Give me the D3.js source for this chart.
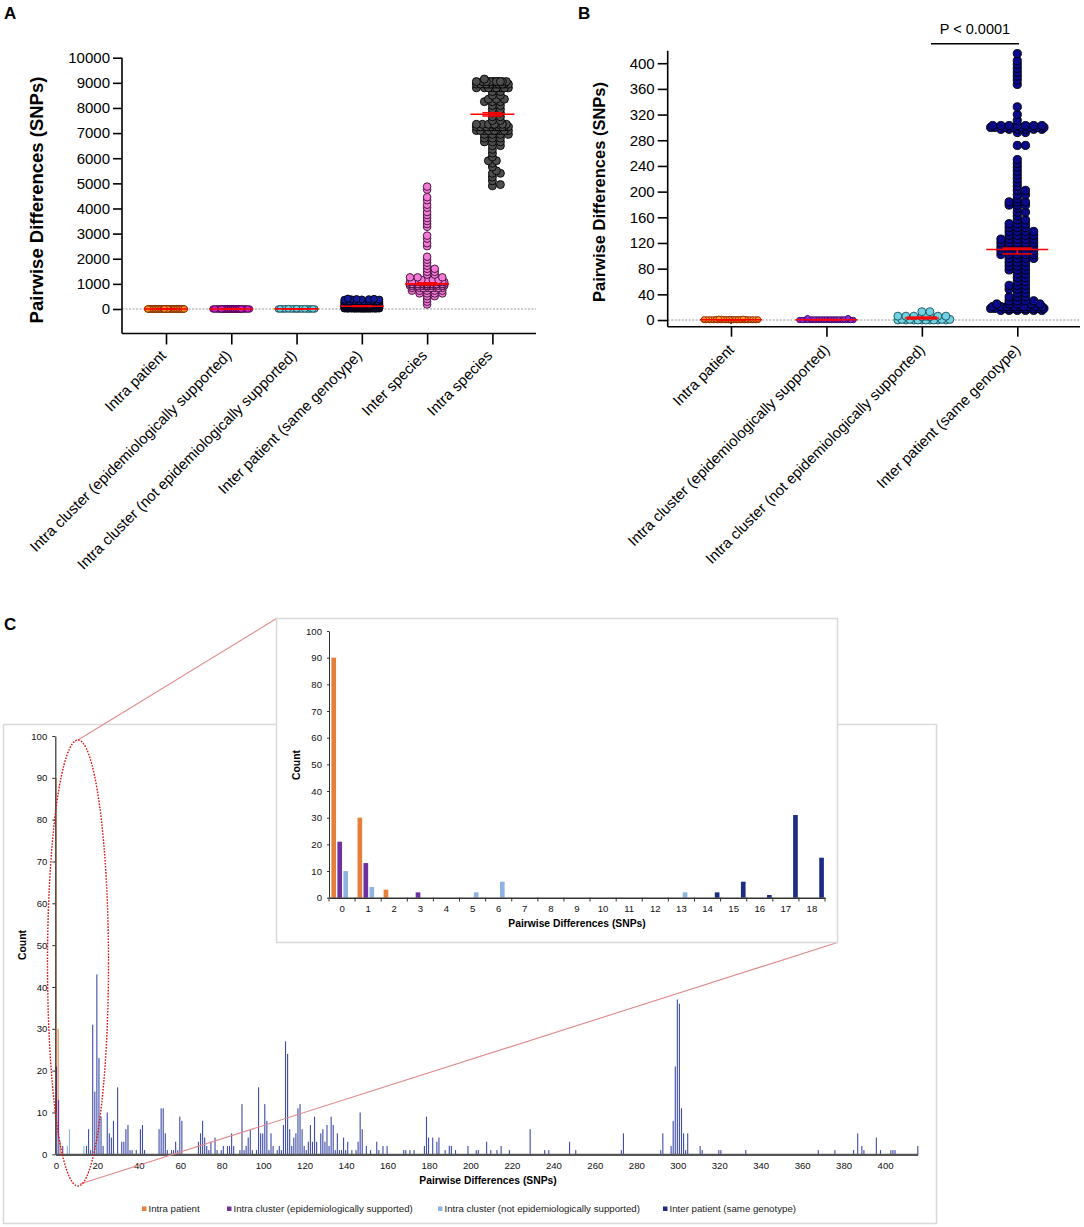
<!DOCTYPE html>
<html><head><meta charset="utf-8">
<script src="https://cdn.jsdelivr.net/npm/d3@7/dist/d3.min.js"></script>
<style>
body{margin:0;background:#fff;}
svg{display:block;font-family:'Liberation Sans',Arial,Helvetica,sans-serif;}
</style></head><body>
<svg id="chart" width="1084" height="1227"></svg>
<script>
// ================= DATA =================
const categoriesA = ["Intra patient","Intra cluster (epidemiologically supported)","Intra cluster (not epidemiologically supported)","Inter patient (same genotype)","Inter species","Intra species"];
const categoriesB = ["Intra patient","Intra cluster (epidemiologically supported)","Intra cluster (not epidemiologically supported)","Inter patient (same genotype)"];
const seriesNames = ["Intra patient","Intra cluster (epidemiologically supported)","Intra cluster (not epidemiologically supported)","Inter patient (same genotype)"];

// Histogram (panel C): [pairwise SNP difference, count]
const intraPatientCounts = [[0,90],[1,30],[2,3]];
const intraClusterEpiCounts = [[0,21],[1,13],[3,2]];
const intraClusterNotEpiCounts = [[0,10],[1,4],[5,2],[6,6],[13,2]];
const interPatientCounts = [[14,2],[15,6],[16,1],[17,31],[18,15],[19,43],[20,23],[21,9],[22,2],
 [24,10],[25,5],[26,4],[27,8],[29,16],[31,3],[32,3],[33,6],[34,7],[35,1],[36,1],[38,1],[40,6],[41,7],[42,1],
 [49,6],[50,11],[51,11],[52,5],[53,1],[55,1],[56,1],[57,3],[58,1],[59,9],[60,8],
 [68,3],[69,5],[70,8],[71,4],[72,2],[73,1],[74,3],[76,4],[77,1],[79,1],[80,2],[82,2],[83,2],[84,5],[85,2],
 [88,1],[89,12],[90,1],[91,2],[92,4],[93,6],[94,1],[96,1],[97,16],[98,5],[99,5],[100,12],[101,8],[102,1],[103,5],[104,2],
 [106,1],[107,2],[108,1],[109,7],[110,27],[111,24],[112,6],[113,2],[114,4],[115,5],[116,11],[117,12],[118,6],[119,2],
 [120,1],[121,3],[122,7],[123,3],[124,9],[125,3],[127,5],[128,6],[129,3],[130,7],[131,2],[132,9],[133,7],[134,1],
 [135,5],[136,1],[137,1],[138,4],[139,1],[140,3],[142,1],[144,1],[145,3],[146,10],[147,6],[149,2],[151,1],
 [154,3],[155,1],[157,2],[159,2],[167,1],[168,1],[170,1],[172,1],[177,2],[178,9],[179,4],[181,4],[183,3],[184,4],
 [187,1],[189,2],[190,2],[192,1],[198,2],[202,1],[203,1],[207,3],[209,1],[212,1],[214,2],[218,1],[228,6],
 [235,1],[237,1],[247,3],[250,1],[272,1],[273,5],[291,1],[292,5],[296,2],[297,8],[298,21],[299,37],[300,36],
 [301,11],[302,5],[303,1],[304,5],[310,2],[311,1],[319,1],[320,1],[332,1],[367,1],[375,1],[384,1],[386,5],
 [388,2],[389,1],[395,4],[397,1],[402,1],[403,1],[404,1],[415,2]];

// Scatter (panels A, B) points: [SNPs, number of dots]
const swarmIntraPatient = [[0,90],[1,30],[2,3]];
const swarmIntraClusterEpi = [[0,21],[1,13],[3,2]];
const swarmIntraClusterNotEpi = [[0,10],[1,4],[5,2],[6,6],[13,2]];
const swarmInterPatient = [[15,6],[18,12],[21,10],[25,5],[30,4],[36,3],[42,2],[48,3],[54,3],[60,2],[66,2],[72,2],
 [78,3],[84,3],[90,3],[96,4],[102,5],[108,5],[114,5],[120,5],[126,5],[132,4],[138,4],[144,3],[150,3],[156,2],
 [162,1],[168,2],[174,1],[179,3],[184,3],[189,1],[195,2],[202,2],[208,1],[214,1],[220,1],[226,1],[232,1],[238,1],
 [244,1],[250,1],[272,2],[292,2],[297,6],[300,8],[303,7],[311,1],[320,1],[332,1],[367,1],[374,1],[380,1],[386,1],
 [392,1],[398,1],[404,1],[415,1]];
const swarmInterSpecies = [[180,1],[290,1],[400,1],[510,2],[620,4],[730,5],[840,8],[930,25],[1000,35],[1080,35],
 [1160,4],[1260,3],[1370,2],[1480,2],[1600,2],[1720,1],[1840,1],[1960,1],[2080,1],[2500,1],[2620,1],[2800,1],
 [2920,1],[3270,1],[3380,1],[3500,1],[3620,1],[3740,1],[3860,1],[4030,1],[4150,1],[4330,1],[4450,1],[4750,1],[4870,1]];
const swarmIntraSpecies = [[4900,1],[4950,1],[5100,1],[5250,1],[5400,2],[5500,1],[5650,1],[5800,1],[5900,2],[6050,1],
 [6200,1],[6350,1],[6500,2],[6650,3],[6800,3],[6950,4],[7100,10],[7250,14],[7350,8],[7500,2],[7650,2],[7800,2],
 [7950,2],[8100,2],[8250,3],[8350,3],[8500,2],[8650,2],[8800,8],[8950,14],[9050,12],[9150,1]];

// mean and 95% CI [mean, lower, upper]
const meanCI_A = [[0.3,0.2,0.5],[0.6,0.4,0.9],[3.2,2,4.5],[110,103,117],[1000,960,1040],[7750,7680,7810]];
const meanCI_B = [[0.3,0.2,0.5],[0.5,0.3,0.8],[3.2,1.8,4.6],[110,103,112]];

const ticksA = [0,1000,2000,3000,4000,5000,6000,7000,8000,9000,10000];
const ticksB = [0,40,80,120,160,200,240,280,320,360,400];
const ticksCount = [0,10,20,30,40,50,60,70,80,90,100];
const ticksMainX = [0,20,40,60,80,100,120,140,160,180,200,220,240,260,280,300,320,340,360,380,400];
const insetCategories = [0,1,2,3,4,5,6,7,8,9,10,11,12,13,14,15,16,17,18];
const mainMaxSNP = 415;
const pLabel = "P < 0.0001";

// ================= STYLE =================
const dotFillA = ["#FF8C1A","#CC22CC","#6FD3E3","#101C9A","#F27AD9","#4E4E4E"];
const dotStrokeA = ["#7A2E00","#4A004A","#1C4E5A","#000000","#3A0A30","#000000"];
const dotRA = [3.3,3.3,3.3,3.5,3.8,4.0];
const dotFillB = ["#FF9A1F","#8A2BE2","#6FD3E3","#0A0A8A"];
const dotStrokeB = ["#8A2A00","#3A0A60","#1C4E5A","#000000"];
const dotRB = [2.7,2.7,4.0,4.1];
const barColors = ["#E5803A","#7030A0","#8DB4E2","#1C2C84"];

const svg = d3.select("#chart");
const expand = arr => arr.flatMap(([v,c]) => d3.range(c).map(() => v));
const dataA = [swarmIntraPatient,swarmIntraClusterEpi,swarmIntraClusterNotEpi,swarmInterPatient,swarmInterSpecies,swarmIntraSpecies].map(expand);
const dataB = dataA.slice(0,4);

function swarm(values, yScale, r, hw){
  const placed = [];
  const step = r*0.5;
  const n = Math.floor(hw/step);
  const cands = [0];
  for(let k=1;k<=n;k++){cands.push(k*step);cands.push(-k*step);}
  const cx = 2*r*0.95, cy = 2*r*0.35;
  values.slice().sort((a,b)=>a-b).forEach(v=>{
    const y = yScale(v);
    const near = placed.filter(p=>Math.abs(p.y-y)<cy);
    let best=0,bestD=-1;
    for(const c of cands){
      let md=Infinity;
      for(const p of near){
        const a=(p.dx-c)/cx, b=(p.y-y)/cy;
        const d=Math.sqrt(a*a+b*b);
        if(d<md){md=d; if(md<=bestD)break;}
      }
      if(md>=1){best=c;bestD=md;break;}
      if(md>bestD){bestD=md;best=c;}
    }
    placed.push({v,y,dx:best});
  });
  return placed;
}

function rotatedLabels(g, cats, xs, y0, fs, dx, dy){
  g.selectAll(null).data(cats).join("text")
   .attr("transform",(d,i)=>`translate(${xs[i]+dx},${y0+dy}) rotate(-45)`)
   .attr("text-anchor","end").attr("font-size",fs).attr("fill","#000").text(d=>d);
}

// ================= PANEL A =================
(function(){
  const g = svg.append("g");
  const axX = 122, axY = 333.5, right = 536;
  const y = d3.scaleLinear().domain([-975,10000]).range([333.5,57.7]);
  const x = d3.scalePoint().domain(categoriesA).range([166,492.4]);
  g.append("text").attr("x",4).attr("y",19).attr("font-size",17).attr("font-weight","bold").text("A");
  g.append("line").attr("x1",axX).attr("x2",right).attr("y1",y(0)).attr("y2",y(0))
   .attr("stroke","#9a9a9a").attr("stroke-dasharray","2,1.5").attr("stroke-width",1);
  const yAxis = d3.axisLeft(y).tickValues(ticksA).tickFormat(d3.format("d")).tickSize(9).tickPadding(3).tickSizeOuter(0);
  const ya = g.append("g").attr("transform",`translate(${axX},0)`).call(yAxis);
  ya.select(".domain").attr("d",`M0,${y(10000)}V${axY}`).attr("stroke-width",1.6);
  ya.selectAll(".tick line").attr("stroke-width",1.6);
  ya.selectAll("text").attr("font-size",15).attr("font-family","'Liberation Sans',Arial");
  const xAxis = d3.axisBottom(x).tickSize(11).tickFormat("");
  const xa = g.append("g").attr("transform",`translate(0,${axY})`).call(xAxis);
  xa.select(".domain").attr("d",`M${axX},0H${right}`).attr("stroke-width",1.6);
  xa.selectAll(".tick line").attr("stroke-width",1.6);
  rotatedLabels(g, categoriesA, categoriesA.map(c=>x(c)), axY, 15, 1, 23);
  g.append("text").attr("transform","translate(43,200) rotate(-90)").attr("text-anchor","middle")
   .attr("font-size",18.5).attr("font-weight","bold").text("Pairwise Differences (SNPs)");
  dataA.forEach((vals,i)=>{
    const pts = swarm(vals,y,dotRA[i],21.5-dotRA[i]);
    g.append("g").selectAll("circle").data(pts).join("circle")
     .attr("cx",d=>x(categoriesA[i])+d.dx).attr("cy",d=>d.y).attr("r",dotRA[i])
     .attr("fill",dotFillA[i]).attr("stroke",dotStrokeA[i]).attr("stroke-width",0.9);
  });
  meanCI_A.forEach(([m,lo,hi],i)=>{
    const cx = x(categoriesA[i]);
    const r = g.append("g").attr("stroke","#FF0000").attr("stroke-width",1.6);
    r.append("line").attr("x1",cx-22).attr("x2",cx+22).attr("y1",y(m)).attr("y2",y(m));
    r.append("line").attr("x1",cx-10).attr("x2",cx+10).attr("y1",y(lo)).attr("y2",y(lo));
    r.append("line").attr("x1",cx-10).attr("x2",cx+10).attr("y1",y(hi)).attr("y2",y(hi));
    r.append("line").attr("x1",cx).attr("x2",cx).attr("y1",y(lo)).attr("y2",y(hi));
  });
})();

// ================= PANEL B =================
(function(){
  const g = svg.append("g");
  const axX = 667.7, axY = 326.7, right = 1080;
  const y = d3.scaleLinear().domain([-10.4,419.5]).range([326.7,50.7]);
  const x = d3.scalePoint().domain(categoriesB).range([731,1017.3]);
  g.append("text").attr("x",578).attr("y",19).attr("font-size",17).attr("font-weight","bold").text("B");
  g.append("line").attr("x1",axX).attr("x2",right).attr("y1",y(0)).attr("y2",y(0))
   .attr("stroke","#9a9a9a").attr("stroke-dasharray","2,1.5").attr("stroke-width",1);
  const yAxis = d3.axisLeft(y).tickValues(ticksB).tickFormat(d3.format("d")).tickSize(10).tickPadding(3).tickSizeOuter(0);
  const ya = g.append("g").attr("transform",`translate(${axX},0)`).call(yAxis);
  ya.select(".domain").attr("d",`M0,50.7V${axY}`).attr("stroke-width",1.6);
  ya.selectAll(".tick line").attr("stroke-width",1.6);
  ya.selectAll("text").attr("font-size",15).attr("font-family","'Liberation Sans',Arial");
  const xAxis = d3.axisBottom(x).tickSize(10).tickFormat("");
  const xa = g.append("g").attr("transform",`translate(0,${axY})`).call(xAxis);
  xa.select(".domain").attr("d",`M${axX},0H${right}`).attr("stroke-width",1.6);
  xa.selectAll(".tick line").attr("stroke-width",1.6);
  rotatedLabels(g, categoriesB, categoriesB.map(c=>x(c)), axY, 15, 4, 24);
  g.append("text").attr("transform","translate(605,192) rotate(-90)").attr("text-anchor","middle")
   .attr("font-size",16.5).attr("font-weight","bold").text("Pairwise Differences (SNPs)");
  dataB.forEach((vals,i)=>{
    const hw = (i===2?32:31)-dotRB[i];
    const pts = swarm(vals,y,dotRB[i],hw);
    g.append("g").selectAll("circle").data(pts).join("circle")
     .attr("cx",d=>x(categoriesB[i])+d.dx).attr("cy",d=>d.y).attr("r",dotRB[i])
     .attr("fill",dotFillB[i]).attr("stroke",dotStrokeB[i]).attr("stroke-width",0.9);
  });
  meanCI_B.forEach(([m,lo,hi],i)=>{
    const cx = x(categoriesB[i]);
    const r = g.append("g").attr("stroke","#FF0000").attr("stroke-width",1.5);
    const hw = i===2?17:31;
    r.append("line").attr("x1",cx-hw).attr("x2",cx+hw).attr("y1",y(m)).attr("y2",y(m));
    r.append("line").attr("x1",cx-15).attr("x2",cx+15).attr("y1",y(lo)).attr("y2",y(lo));
    r.append("line").attr("x1",cx-15).attr("x2",cx+15).attr("y1",y(hi)).attr("y2",y(hi));
    r.append("line").attr("x1",cx).attr("x2",cx).attr("y1",y(lo)).attr("y2",y(hi));
  });
  g.append("line").attr("x1",931).attr("x2",1019).attr("y1",43.7).attr("y2",43.7).attr("stroke","#000").attr("stroke-width",1.6);
  g.append("text").attr("x",975).attr("y",34).attr("text-anchor","middle").attr("font-size",14.5).text(pLabel);
})();

// ================= PANEL C =================
const seriesData = [intraPatientCounts,intraClusterEpiCounts,intraClusterNotEpiCounts,interPatientCounts];
(function(){
  const g = svg.append("g");
  g.append("text").attr("x",4).attr("y",630).attr("font-size",17).attr("font-weight","bold").text("C");
  g.append("rect").attr("x",3.5).attr("y",724.5).attr("width",933).attr("height",499)
   .attr("fill","#fff").attr("stroke","#d9d9d9").attr("stroke-width",1.5);
  const x0 = d3.scaleBand().domain(d3.range(0,mainMaxSNP+1)).range([55.3,917.7]);
  const x1 = d3.scaleBand().domain([0,1,2,3]).range([0.09*x0.bandwidth(),0.97*x0.bandwidth()]).paddingInner(0.22);
  const y = d3.scaleLinear().domain([0,100]).range([1154.3,736]);
  const bw = Math.max(x1.bandwidth(),1.1);
  seriesData.forEach((arr,s)=>{
    g.append("g").selectAll("rect").data(arr).join("rect")
     .attr("x",d=>x0(d[0])+x1(s)).attr("width",bw)
     .attr("y",d=>y(d[1])).attr("height",d=>y(0)-y(d[1]))
     .attr("fill",s===3?"#3E4CA6":barColors[s]);
  });
  const ya = g.append("g").attr("transform","translate(55.3,0)")
   .call(d3.axisLeft(y).tickValues(ticksCount).tickSize(3).tickPadding(5).tickSizeOuter(0));
  ya.select(".domain").attr("stroke","#333").attr("stroke-width",1.2);
  ya.selectAll(".tick line").attr("stroke","#333");
  ya.selectAll("text").attr("font-size",9.6).attr("font-family","'Liberation Sans',Arial").attr("fill","#111");
  const xa = g.append("g").attr("transform","translate(0,1154.3)")
   .call(d3.axisBottom(x0).tickValues(ticksMainX).tickSize(0).tickPadding(8).tickSizeOuter(0));
  xa.select(".domain").attr("stroke","#555").attr("stroke-width",2.2);
  xa.selectAll("text").attr("font-size",9.6).attr("font-family","'Liberation Sans',Arial").attr("fill","#111");
  g.append("text").attr("x",488).attr("y",1184).attr("text-anchor","middle").attr("font-size",10.3)
   .attr("font-weight","bold").text("Pairwise Differences (SNPs)");
  g.append("text").attr("transform","translate(26,945) rotate(-90)").attr("text-anchor","middle")
   .attr("font-size",10.4).attr("font-weight","bold").text("Count");
  const legX = [142,227,438,663];
  const lg = g.append("g");
  seriesNames.forEach((n,i)=>{
    lg.append("rect").attr("x",legX[i]).attr("y",1206.5).attr("width",4.5).attr("height",4.5).attr("fill",barColors[i]);
    lg.append("text").attr("x",legX[i]+6.5).attr("y",1212.3).attr("font-size",9.7).attr("fill","#222").text(n);
  });
  g.append("line").attr("x1",78).attr("y1",740).attr("x2",276.5).attr("y2",618.5).attr("stroke","#E08A8A").attr("stroke-width",1.1);
  g.append("line").attr("x1",80).attr("y1",1184).attr("x2",837.5).attr("y2",942.5).attr("stroke","#E08A8A").attr("stroke-width",1.1);
  g.append("ellipse").attr("cx",78).attr("cy",963).attr("rx",30.5).attr("ry",223)
   .attr("fill","none").attr("stroke","#E01010").attr("stroke-width",1.4).attr("stroke-dasharray","1.6,1.4");

  const gi = svg.append("g");
  gi.append("rect").attr("x",276.5).attr("y",618.5).attr("width",561).attr("height",324)
   .attr("fill","#fff").attr("stroke","#d9d9d9").attr("stroke-width",1.5);
  const ix0 = d3.scaleBand().domain(insetCategories).range([329,825]);
  const ix1 = d3.scaleBand().domain([0,1,2,3]).range([2.4,25.0]).paddingInner(0.22);
  const iy = d3.scaleLinear().domain([0,100]).range([897.7,631]);
  seriesData.forEach((arr,s)=>{
    gi.append("g").selectAll("rect").data(arr.filter(d=>d[0]<=18)).join("rect")
     .attr("x",d=>ix0(d[0])+ix1(s)).attr("width",ix1.bandwidth())
     .attr("y",d=>iy(d[1])).attr("height",d=>iy(0)-iy(d[1]))
     .attr("fill",barColors[s]);
  });
  const iya = gi.append("g").attr("transform","translate(329,0)")
   .call(d3.axisLeft(iy).tickValues(ticksCount).tickSize(2).tickPadding(5).tickSizeOuter(0));
  iya.select(".domain").attr("stroke","#333");
  iya.selectAll(".tick line").attr("stroke","#333");
  iya.selectAll("text").attr("font-size",9.6).attr("font-family","'Liberation Sans',Arial").attr("fill","#111");
  const ixa = gi.append("g").attr("transform","translate(0,897.7)")
   .call(d3.axisBottom(ix0).tickSize(0).tickPadding(7).tickSizeOuter(0));
  ixa.select(".domain").attr("stroke","#333").attr("stroke-width",1.6);
  ixa.selectAll("text").attr("font-size",9.6).attr("font-family","'Liberation Sans',Arial").attr("fill","#111");
  gi.append("g").selectAll("line").data(insetCategories.concat([19])).join("line")
   .attr("x1",d=>ix0.range()[0]+d*ix0.step()).attr("x2",d=>ix0.range()[0]+d*ix0.step())
   .attr("y1",897.7).attr("y2",901.5).attr("stroke","#333").attr("stroke-width",1);
  gi.append("text").attr("x",577).attr("y",927).attr("text-anchor","middle").attr("font-size",10.3)
   .attr("font-weight","bold").text("Pairwise Differences (SNPs)");
  gi.append("text").attr("transform","translate(300,765) rotate(-90)").attr("text-anchor","middle")
   .attr("font-size",10.4).attr("font-weight","bold").text("Count");
})();
</script></body></html>
